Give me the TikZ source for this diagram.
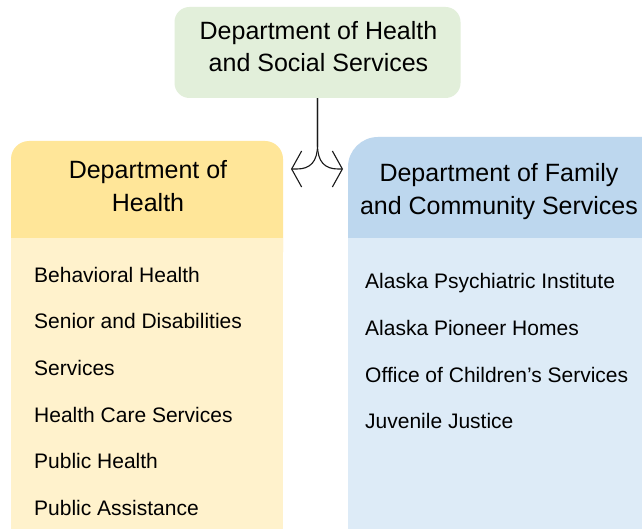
\documentclass[tikz,border=0pt]{standalone}
\usepackage{fontspec}
\setmainfont{Liberation Sans}
\usetikzlibrary{arrows.meta}
\definecolor{dhssgreen}{RGB}{226,239,218}
\definecolor{dohhead}{RGB}{255,230,153}
\definecolor{dohbody}{RGB}{255,242,204}
\definecolor{dfcshead}{RGB}{189,215,238}
\definecolor{dfcsbody}{RGB}{221,235,247}
\begin{document}
\begin{tikzpicture}[x=1pt,y=-1pt,
  hdr/.style={align=center,inner sep=0pt,font=\fontsize{25}{32.5}\selectfont},
  item/.style={anchor=base west,inner sep=0pt,font=\fontsize{21}{25}\selectfont},
  conn/.style={line width=1.1pt,draw=black!90,-{Straight Barb[length=10pt,width=36pt]}}]
\clip (0,0) rectangle (642,529);
\fill[white] (0,0) rectangle (642,529);
% top box
\node[fill=dhssgreen,rounded corners=15pt,minimum width=286pt,minimum height=91pt,inner sep=0pt] (dhssbox) at (317.5,52.5) {};
\node[hdr] (dhss) at (318.5,46.5) {Department of Health\\and Social Services};
% left box
\fill[dohhead,rounded corners=18pt] (11,141) rectangle (283,270);
\fill[dohbody] (11,238) rectangle (283,545);
\node[hdr] (doh) at (148,186) {Department of\\Health};
% right box
\fill[dfcshead,rounded corners=30pt] (348,137) rectangle (690,270);
\fill[dfcsbody] (348,238) rectangle (690,545);
\node[hdr] (dfcs) at (499,191.6) {Department of Family\\and Community Services};
% connectors
\coordinate (split) at (317.5,145);
\coordinate (la) at (291,169);
\coordinate (ra) at (343,169);
\draw[conn] (dhssbox.south) -- (split) .. controls (317.5,162) and (310,169) .. (297,169) -- (la);
\draw[conn] (dhssbox.south) -- (split) .. controls (317.5,162) and (325,169) .. (338,169) -- (ra);
% items
\node[item] (l1) at (34,282) {Behavioral Health};
\node[item] (l2) at (34,328) {Senior and Disabilities};
\node[item] (l3) at (34,375) {Services};
\node[item] (l4) at (34,422) {Health Care Services};
\node[item] (l5) at (34,468) {Public Health};
\node[item] (l6) at (34,515) {Public Assistance};
\node[item] (r1) at (365,288) {Alaska Psychiatric Institute};
\node[item] (r2) at (365,335) {Alaska Pioneer Homes};
\node[item] (r3) at (365,382) {Office of Children’s Services};
\node[item] (r4) at (365,428) {Juvenile Justice};
\end{tikzpicture}
\end{document}
